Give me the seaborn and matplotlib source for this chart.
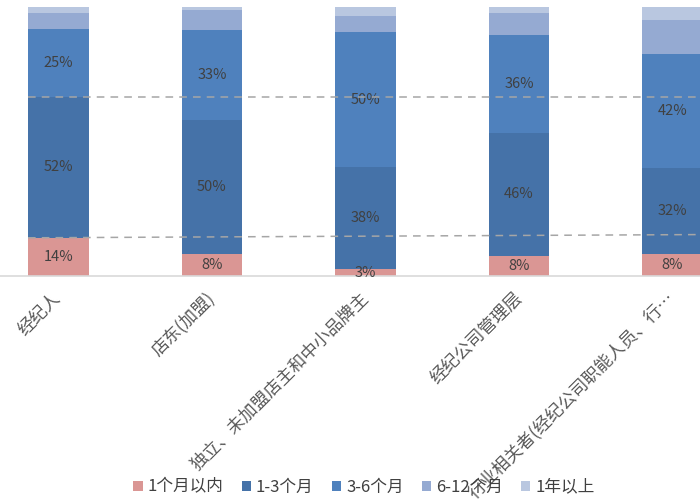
import numpy as np
import pandas as pd
import matplotlib
matplotlib.use("Agg")
import matplotlib.pyplot as plt
from matplotlib.patches import Patch
import seaborn as sns

# ── Données ────────────────────────────────────────────────────────────────
categories = [
    "经纪人",
    "店东(加盟)",
    "独立、未加盟店主和中小品牌主",
    "经纪公司管理层",
    "行业相关者(经纪公司职能人员、行…",
]
series_names = ["1个月以内", "1-3个月", "3-6个月", "6-12个月", "1年以上"]

lt_1m   = [14.2, 8.1, 2.6, 7.6, 8.1]
m1_3    = [52.5, 49.9, 37.8, 45.7, 32.1]
m3_6    = [25.3, 33.4, 50.4, 36.4, 42.4]
m6_12   = [5.7, 7.5, 5.9, 8.1, 12.6]
gt_1y   = [2.3, 1.1, 3.3, 2.2, 4.8]

# lignes pointillées de référence (début, fin)
ref_upper = [66.7, 66.7]
ref_lower = [14.2, 15.4]

colors = ["#DA9694", "#4572A8", "#4F81BD", "#95AAD2", "#B9C7E0"]
TEXT = "#404040"

# ── Figure ─────────────────────────────────────────────────────────────────
sns.set_theme(style="white")
plt.rcParams["font.family"] = ["Noto Sans CJK SC", "DejaVu Sans"]

fig = plt.figure(figsize=(7, 5), dpi=100)
ax = fig.add_axes([0.0, 0.448, 1.0, 0.538])

values = np.array([lt_1m, m1_3, m3_6, m6_12, gt_1y])
cum = values.cumsum(axis=0)
BAR_W = 0.397

# barres cumulées, de la plus haute à la plus basse (empilement)
for i in range(len(series_names) - 1, -1, -1):
    df = pd.DataFrame({"cat": categories, "val": cum[i]})
    sns.barplot(
        data=df, x="cat", y="val", order=categories,
        color=colors[i], saturation=1, width=BAR_W,
        linewidth=0, ax=ax,
    )

# étiquettes des trois premières séries
for i in range(3):
    for j in range(len(categories)):
        mid = cum[i][j] - values[i][j] / 2
        ax.text(j, mid, f"{values[i][j]:.0f}%", ha="center", va="center",
                fontsize=10.5, color=TEXT)

# lignes pointillées
x0 = -BAR_W / 2
x1 = 4.179
ax.plot([x0, x1], ref_upper, ls=(0, (5, 4)), color="#A6A6A6", lw=1.1, zorder=5)
ax.plot([x0, x1], ref_lower, ls=(0, (5, 4)), color="#A6A6A6", lw=1.1, zorder=5)

ax.set_xlim(-0.381, 4.179)
ax.set_ylim(0, 100)
ax.set_xlabel("")
ax.set_ylabel("")
ax.set_yticks([])
for side in ["top", "left", "right"]:
    ax.spines[side].set_visible(False)
ax.spines["bottom"].set_color("#D9D9D9")
ax.spines["bottom"].set_linewidth(1.2)

ax.set_xticks(range(len(categories)))
ax.set_xticklabels(categories, rotation=45, ha="right", va="center",
                   rotation_mode="anchor", fontsize=12.5, color="#595959")
ax.tick_params(axis="x", length=0, pad=14)

# légende
handles = [Patch(facecolor=c, edgecolor="none") for c in colors]
fig.legend(handles, series_names, loc="center", bbox_to_anchor=(0.52, 0.026),
           ncol=5, frameon=False, fontsize=12, handlelength=0.55,
           handleheight=0.55, handletextpad=0.3, columnspacing=1.1,
           labelcolor=TEXT)

plt.savefig("out.png", dpi=100)
